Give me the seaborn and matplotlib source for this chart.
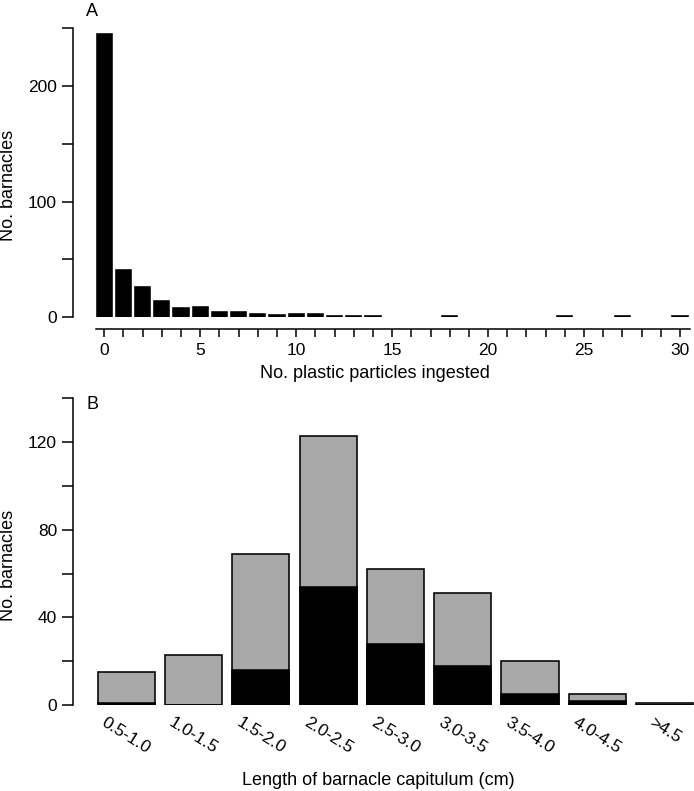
import matplotlib
matplotlib.use("Agg")
import matplotlib.pyplot as plt
import seaborn as sns
from matplotlib.ticker import MultipleLocator, FixedLocator

# panel A: frequency of ingested particles (only non-zero counts drawn)
particles = [0, 1, 2, 3, 4, 5, 6, 7, 8, 9, 10, 11, 12, 13, 14, 18, 24, 27, 30]
barnacles_a = [245, 41, 26, 14, 8, 9, 4, 4, 3, 2, 3, 3, 1, 1, 1, 1, 1, 1, 1]

# panel B: size classes, all barnacles vs barnacles with plastic
size_classes = ["0.5-1.0", "1.0-1.5", "1.5-2.0", "2.0-2.5", "2.5-3.0",
                "3.0-3.5", "3.5-4.0", "4.0-4.5", ">4.5"]
total_counts = [15, 23, 69, 123, 62, 51, 20, 5, 1]
plastic_counts = [1, 0, 16, 54, 28, 18, 5, 2, 0]

sns.set_style("ticks")
plt.rcParams['font.family'] = ['Liberation Sans', 'DejaVu Sans']
for key in ['text.color', 'axes.labelcolor', 'xtick.color', 'ytick.color', 'axes.edgecolor']:
    plt.rcParams[key] = 'black'
plt.rcParams['axes.linewidth'] = 1.1
for key in ['xtick.major.width', 'ytick.major.width', 'xtick.minor.width', 'ytick.minor.width']:
    plt.rcParams[key] = 1.1

fig = plt.figure(figsize=(6.94, 7.91), dpi=100)
ax1 = fig.add_axes([0.10519, 0.59924, 0.88905, 0.36498])
ax2 = fig.add_axes([0.10519, 0.10872, 0.89481, 0.38774])

# ---- A ----
sns.barplot(x=particles, y=barnacles_a, native_scale=True, color="black",
            saturation=1, width=0.79, edgecolor="black", linewidth=1.15,
            errorbar=None, ax=ax1)
ax1.set_xlim(-1.63, 30.52)
ax1.set_ylim(0, 250)
sns.despine(ax=ax1)
ax1.spines['bottom'].set_position(('outward', 8.6))
ax1.spines['bottom'].set_bounds(-0.42, 30.52)
ax1.spines['left'].set_bounds(0, 250)
ax1.xaxis.set_major_locator(MultipleLocator(5))
ax1.xaxis.set_minor_locator(FixedLocator([i for i in range(31) if i % 5]))
ax1.yaxis.set_major_locator(MultipleLocator(100))
ax1.yaxis.set_minor_locator(FixedLocator([50, 150, 250]))
ax1.tick_params(axis='x', which='both', length=6, pad=4, labelsize=12.5)
ax1.tick_params(axis='y', which='both', length=8, pad=3.5, labelsize=12.5)
ax1.set_xlabel("No. plastic particles ingested", fontsize=13)
ax1.set_ylabel("No. barnacles", fontsize=13)
ax1.xaxis.set_label_coords(0.49, -0.166)
ax1.yaxis.set_label_coords(-0.0908, 0.457)

# ---- B ----
sns.barplot(x=size_classes, y=total_counts, color="#a8a8a8", saturation=1,
            width=0.85, edgecolor="black", linewidth=1.15, errorbar=None, ax=ax2)
sns.barplot(x=size_classes, y=plastic_counts, color="black", saturation=1,
            width=0.85, edgecolor="black", linewidth=1.15, errorbar=None, ax=ax2)
ax2.set_xlim(-0.79, 8.435)
ax2.set_ylim(0, 140)
sns.despine(ax=ax2, bottom=True)
ax2.spines['left'].set_bounds(0, 140)
ax2.yaxis.set_major_locator(MultipleLocator(40))
ax2.yaxis.set_minor_locator(FixedLocator([20, 60, 100, 140]))
ax2.tick_params(axis='y', which='both', length=8, pad=3.5, labelsize=12.5)
ax2.tick_params(axis='x', length=0, pad=7, labelsize=12.5)
plt.setp(ax2.get_xticklabels(), rotation=-32, ha="center")
ax2.set_xlabel("Length of barnacle capitulum (cm)", fontsize=13)
ax2.set_ylabel("No. barnacles", fontsize=13)
ax2.xaxis.set_label_coords(0.491, -0.218)
ax2.yaxis.set_label_coords(-0.0902, 0.456)

fig.text(86 / 694, 1 - 3 / 791, "A", fontsize=13, ha="left", va="top")
fig.text(86 / 694, 1 - 396 / 791, "B", fontsize=13, ha="left", va="top")

fig.savefig("out.png", dpi=100)
